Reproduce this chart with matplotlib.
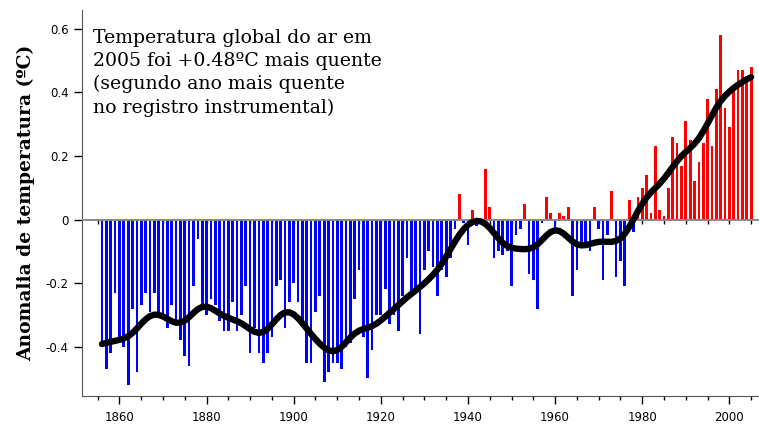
import matplotlib
matplotlib.use("Agg")
import matplotlib.pyplot as plt
import numpy as np

# Global mean air temperature anomaly (ºC), one value per year 1856-2005
years = np.arange(1856, 2006)
anomaly = [
    -0.39, -0.47, -0.42, -0.23, -0.37, -0.40, -0.52, -0.28, -0.48, -0.27,   # 1856-1865
    -0.23, -0.29, -0.23, -0.30, -0.30, -0.34, -0.27, -0.33, -0.38, -0.43,   # 1866-1875
    -0.46, -0.21, -0.06, -0.27, -0.30, -0.25, -0.27, -0.32, -0.35, -0.35,   # 1876-1885
    -0.26, -0.35, -0.30, -0.21, -0.42, -0.34, -0.42, -0.45, -0.42, -0.37,   # 1886-1895
    -0.21, -0.19, -0.34, -0.26, -0.20, -0.26, -0.33, -0.45, -0.45, -0.29,   # 1896-1905
    -0.24, -0.51, -0.48, -0.45, -0.45, -0.47, -0.40, -0.39, -0.25, -0.16,   # 1906-1915
    -0.37, -0.50, -0.41, -0.30, -0.30, -0.22, -0.33, -0.30, -0.35, -0.24,   # 1916-1925
    -0.12, -0.24, -0.23, -0.36, -0.16, -0.10, -0.15, -0.24, -0.16, -0.18,   # 1926-1935
    -0.12, -0.03, 0.08, -0.01, -0.08, 0.03, -0.02, -0.01, 0.16, 0.04,       # 1936-1945
    -0.12, -0.10, -0.11, -0.10, -0.21, -0.05, -0.03, 0.05, -0.17, -0.19,    # 1946-1955
    -0.28, -0.01, 0.07, 0.02, -0.03, 0.02, 0.01, 0.04, -0.24, -0.16,        # 1956-1965
    -0.09, -0.09, -0.10, 0.04, -0.03, -0.19, -0.05, 0.09, -0.18, -0.13,     # 1966-1975
    -0.21, 0.06, -0.04, 0.07, 0.10, 0.14, 0.02, 0.23, 0.03, 0.01,           # 1976-1985
    0.10, 0.26, 0.24, 0.17, 0.31, 0.25, 0.12, 0.18, 0.24, 0.38,             # 1986-1995
    0.23, 0.41, 0.58, 0.35, 0.29, 0.41, 0.47, 0.47, 0.45, 0.48,             # 1996-2005
]
anomaly = np.array(anomaly)

note = ("Temperatura global do ar em\n"
        "2005 foi +0.48ºC mais quente\n"
        "(segundo ano mais quente\n"
        "no registro instrumental)")

# gaussian-weighted running mean, renormalised near the ends
sigma = 3.0
d = years[:, None] - years[None, :]
w = np.exp(-0.5 * (d / sigma) ** 2)
smooth = (w @ anomaly) / w.sum(axis=1)

ymin, ymax = -0.555, 0.66

fig = plt.figure(figsize=(7.59, 4.28), dpi=100)
ax = fig.add_axes([0.108, 0.075, 0.892, 0.902])

colors = np.where(anomaly >= 0, "#ff0000", "#0000ff")
ax.bar(years, anomaly, width=0.62, color=colors, linewidth=0, zorder=2)
ax.axhline(0, color="#888888", lw=1.4, zorder=3)
ax.plot(years, smooth, color="black", lw=4.6, solid_capstyle="round", zorder=4)

ax.set_xlim(1851.4, 2006.8)
ax.set_ylim(ymin, ymax)
ax.set_xticks(np.arange(1860, 2001, 20))
ax.set_xticks(np.arange(1855, 2006, 5), minor=True)
ax.set_yticks([-0.4, -0.2, 0, 0.2, 0.4, 0.6])
ax.set_yticklabels(["-0.4", "-0.2", "0", "0.2", "0.4", "0.6"])
ax.tick_params(axis="both", labelsize=8.5, direction="out", length=6, width=1)
ax.tick_params(axis="x", which="minor", length=3, width=1)
ax.tick_params(axis="x", pad=5)

# small year ticks hanging from the zero line
zero_ax = ax.secondary_xaxis((0 - ymin) / (ymax - ymin))
zero_ax.set_xticks(np.arange(1855, 2006, 5))
zero_ax.tick_params(axis="x", direction="out", length=3, width=1,
                    labelbottom=False, labeltop=False)
zero_ax.spines[:].set_visible(False)

for side in ("top", "right"):
    ax.spines[side].set_visible(False)
for side in ("left", "bottom"):
    ax.spines[side].set_color("#555555")

ax.set_ylabel("Anomalia de temperatura (ºC)", family="DejaVu Serif",
              fontsize=13.5, fontweight="bold", labelpad=8)

ax.text(0.016, 0.95, note, transform=ax.transAxes, family="DejaVu Serif",
        fontsize=13.6, va="top", ha="left", linespacing=1.35)

fig.savefig("out.png", dpi=100)
